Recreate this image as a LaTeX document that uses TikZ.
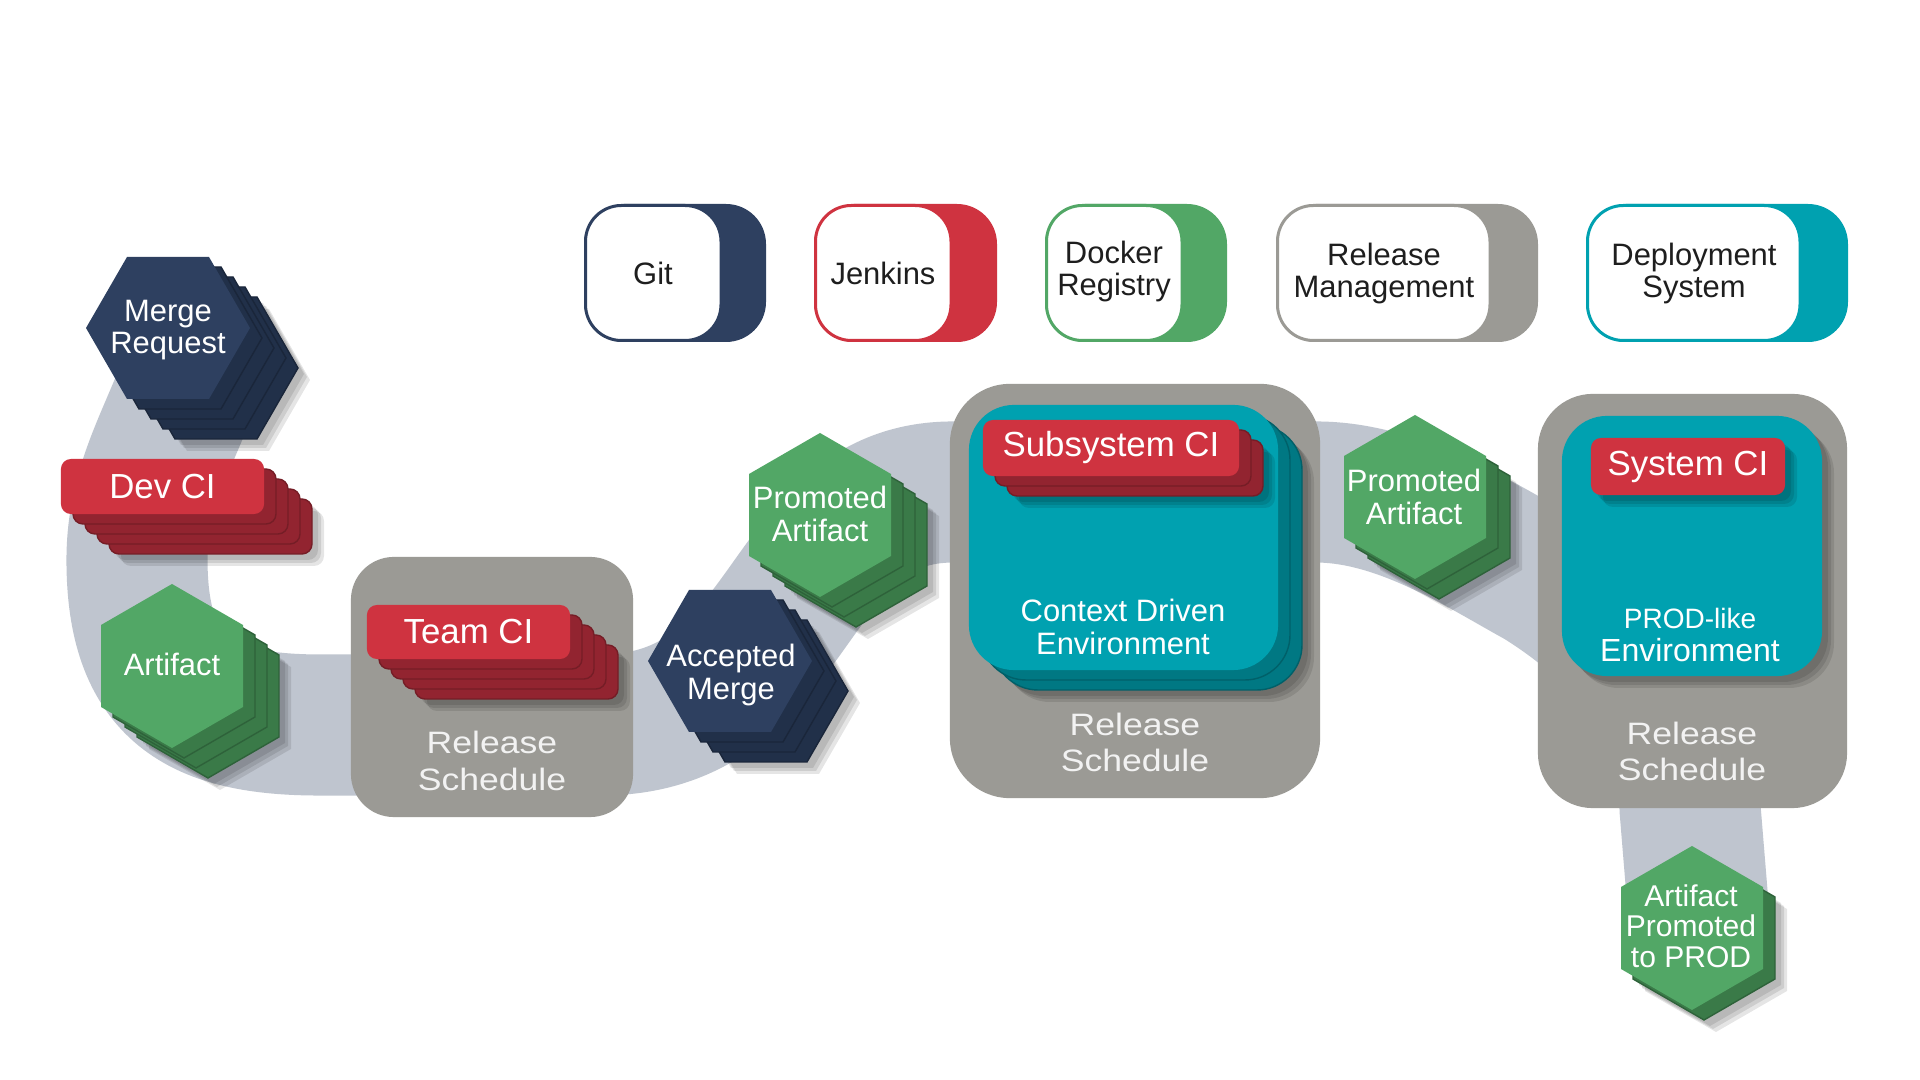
\documentclass[tikz,border=0pt]{standalone}
\usepackage{fontspec}
\setmainfont{Liberation Sans}
\newfontfamily\widefont[FakeStretch=1.15]{Liberation Sans}
\definecolor{navy}{RGB}{46,64,96}
\definecolor{navyd}{RGB}{33,48,73}
\definecolor{cired}{RGB}{207,51,64}
\definecolor{ciredd}{RGB}{146,36,48}
\definecolor{grn}{RGB}{82,167,102}
\definecolor{grnd}{RGB}{58,122,72}
\definecolor{envteal}{RGB}{0,161,176}
\definecolor{envteald}{RGB}{0,120,131}
\definecolor{boxgray}{RGB}{155,154,149}
\definecolor{bandcol}{RGB}{191,197,207}
\definecolor{ink}{RGB}{30,30,30}
\definecolor{rswhite}{RGB}{242,242,242}
\tikzset{
  pics/hexF/.style={code={\path[pic actions] (82,0) -- (41,71) -- (-41,71) -- (-82,0) -- (-41,-71) -- (41,-71) -- cycle;}},
  pics/hexP/.style={code={\path[pic actions] (0,-82) -- (71,-41) -- (71,41) -- (0,82) -- (-71,41) -- (-71,-41) -- cycle;}},
  hextext/.style={text=white, align=center, inner sep=0pt, font=\fontsize{8.8pt}{9.3pt}\selectfont},
  cibox/.style={fill=cired, rounded corners=0.1cm, inner sep=0pt, text=white, font=\fontsize{9.9pt}{10pt}\selectfont},
  envbox/.style={fill=envteal, rounded corners=0.45cm, inner sep=0pt},
  graybox/.style={fill=boxgray, inner sep=0pt},
  rstext/.style={text=rswhite, align=center, inner sep=0pt, font=\widefont\fontsize{8.8pt}{10.4pt}\selectfont},
  envtext/.style={text=white, align=center, inner sep=0pt, font=\fontsize{8.8pt}{9.4pt}\selectfont},
  legtext/.style={text=ink, align=center, inner sep=0pt, font=\fontsize{8.8pt}{9.1pt}\selectfont},
  legouter/.style={rounded corners=0.4cm},
  leginner/.style={fill=white, line width=0.03cm, rounded corners=0.36cm},
  flow/.style={draw=bandcol, line width=1.41cm, line join=round},
}
% soft shadow of a rounded rectangle: x1 y1 x2 y2 radius sx sy
\newcommand\rshadow[7]{%
  \foreach \d in {6,9,12}{\fill[black,opacity=0.1,rounded corners=#5,shift={(#6+\d,#7+\d)}] (#1,#2) rectangle (#3,#4);}}
% stacked layers of a rounded rectangle: x1 y1 x2 y2 radius n colour
\newcommand\rlayers[7]{%
  \foreach \k in {#6,...,1}{\fill[#7,draw=#7!80!black,line width=0.4pt,rounded corners=#5,shift={(12*\k,10*\k)}] (#1,#2) rectangle (#3,#4);}}
% hexagon stack: pic cx cy n front back
\newcommand\hexstack[6]{%
  \foreach \d in {6,9,12}{\pic[fill=black,opacity=0.1] at (#2+12*#4+\d,#3+10*#4+\d) {#1};}
  \foreach \k in {#4,...,1}{\pic[fill=#6,draw=#6!80!black,line width=0.4pt] at (#2+12*\k,#3+10*\k) {#1};}
  \pic[fill=#5] at (#2,#3) {#1};}
\begin{document}
\begin{tikzpicture}[x=0.01cm,y=-0.01cm]
\useasboundingbox (0,0) rectangle (1920,1080);
\fill[white] (0,0) rectangle (1920,1080);

% flow band
\coordinate (f0) at (205,330);
\coordinate (f1) at (137,560);
\coordinate (f2) at (320,725);
\coordinate (f3) at (600,725);
\coordinate (f4) at (953,492);
\coordinate (f5) at (1316,492);
\coordinate (f6) at (1540,578);
\coordinate (f7) at (1690,808);
\coordinate (f8) at (1700,930);
\draw[flow] (f0) .. controls (185,420) and (137,470) .. (f1)
  .. controls (137,690) and (200,725) .. (f2) -- (f3)
  .. controls (800,725) and (780,492) .. (f4) -- (f5)
  .. controls (1400,492) and (1480,545) .. (f6)
  .. controls (1640,640) and (1690,720) .. (f7) -- (f8);

% release schedule boxes
\node[graybox, rounded corners=0.43cm, minimum width=2.82cm, minimum height=2.60cm] (rs1) at (492,687) {};
\node[graybox, rounded corners=0.6cm, minimum width=3.70cm, minimum height=4.14cm] (rs2) at (1135,591) {};
\node[graybox, rounded corners=0.55cm, minimum width=3.09cm, minimum height=4.14cm] (rs3) at (1692.5,601) {};
\node[rstext] (rs1t) at (492,761) {Release\\Schedule};
\node[rstext] (rs2t) at (1135,742.5) {Release\\Schedule};
\node[rstext] (rs3t) at (1692,751.5) {Release\\Schedule};

% context driven environment
\rshadow{969}{405}{1278}{670}{0.45cm}{24}{20}
\rlayers{969}{405}{1278}{670}{0.45cm}{2}{envteald}
\node[envbox, minimum width=3.09cm, minimum height=2.65cm] (env1) at (1123.5,537.5) {};
\node[envtext] (env1t) at (1123,627) {Context Driven\\Environment};
\rshadow{983}{420}{1239}{476}{0.1cm}{24}{20}
\rlayers{983}{420}{1239}{476}{0.1cm}{2}{ciredd}
\node[cibox, minimum width=2.56cm, minimum height=0.56cm] (subci) at (1111,448) {Subsystem CI};

% prod-like environment
\rshadow{1562}{416}{1822}{676}{0.45cm}{0}{0}
\node[envbox, minimum width=2.60cm, minimum height=2.60cm] (env2) at (1692,546) {};
\node[envtext, font=\fontsize{9.1pt}{9.3pt}\selectfont] (env2t) at (1690,635) {{\fontsize{7.97pt}{9pt}\selectfont PROD-like}\\Environment};
\rshadow{1591}{438}{1785}{495}{0.1cm}{0}{0}
\node[cibox, minimum width=1.94cm, minimum height=0.57cm] (sysci) at (1688,466.5) {System CI};

% dev and team CI
\rshadow{61}{459}{264}{514}{0.1cm}{48}{40}
\rlayers{61}{459}{264}{514}{0.1cm}{4}{ciredd}
\node[cibox, minimum width=2.03cm, minimum height=0.55cm] (devci) at (162.5,486.5) {Dev CI};
\rshadow{367}{605}{570}{659}{0.1cm}{48}{40}
\rlayers{367}{605}{570}{659}{0.1cm}{4}{ciredd}
\node[cibox, minimum width=2.03cm, minimum height=0.54cm] (teamci) at (468.5,632) {Team CI};

% hexagons
\hexstack{hexF}{168}{328}{4}{navy}{navyd}
\node[hextext] (mr) at (168,330) {Merge\\Request};
\hexstack{hexP}{172}{666}{3}{grn}{grnd}
\node[hextext] (art) at (172,664) {Artifact};
\hexstack{hexF}{730}{661}{3}{navy}{navyd}
\node[hextext] (am) at (731,675) {Accepted\\Merge};
\hexstack{hexP}{820}{515}{3}{grn}{grnd}
\node[hextext] (pa1) at (820,514) {Promoted\\Artifact};
\hexstack{hexP}{1415}{497}{2}{grn}{grnd}
\node[hextext] (pa2) at (1414,497) {Promoted\\Artifact};
\hexstack{hexP}{1692}{928}{1}{grn}{grnd}
\node[hextext, font=\fontsize{8.54pt}{8.7pt}\selectfont] (prod) at (1691,926) {Artifact\\Promoted\\to PROD};

% legend
\fill[navy, legouter] (584,204) rectangle (766,342);
\filldraw[leginner, draw=navy] (585.5,205.5) rectangle (721,340.5);
\node[legtext] (git) at (653,273) {Git};
\fill[cired, legouter] (814,204) rectangle (997,342);
\filldraw[leginner, draw=cired] (815.5,205.5) rectangle (951,340.5);
\node[legtext] (jenkins) at (883,273) {Jenkins};
\fill[grn, legouter] (1045,204) rectangle (1227,342);
\filldraw[leginner, draw=grn] (1046.5,205.5) rectangle (1182,340.5);
\node[legtext] (docker) at (1114,272) {Docker\\Registry};
\fill[boxgray, legouter] (1276,204) rectangle (1538,342);
\filldraw[leginner, draw=boxgray] (1277.5,205.5) rectangle (1490,340.5);
\node[legtext] (relmgmt) at (1384,274) {Release\\Management};
\fill[envteal, legouter] (1586,204) rectangle (1848,342);
\filldraw[leginner, draw=envteal] (1587.5,205.5) rectangle (1800,340.5);
\node[legtext] (deploy) at (1694,274) {Deployment\\System};
\end{tikzpicture}
\end{document}
